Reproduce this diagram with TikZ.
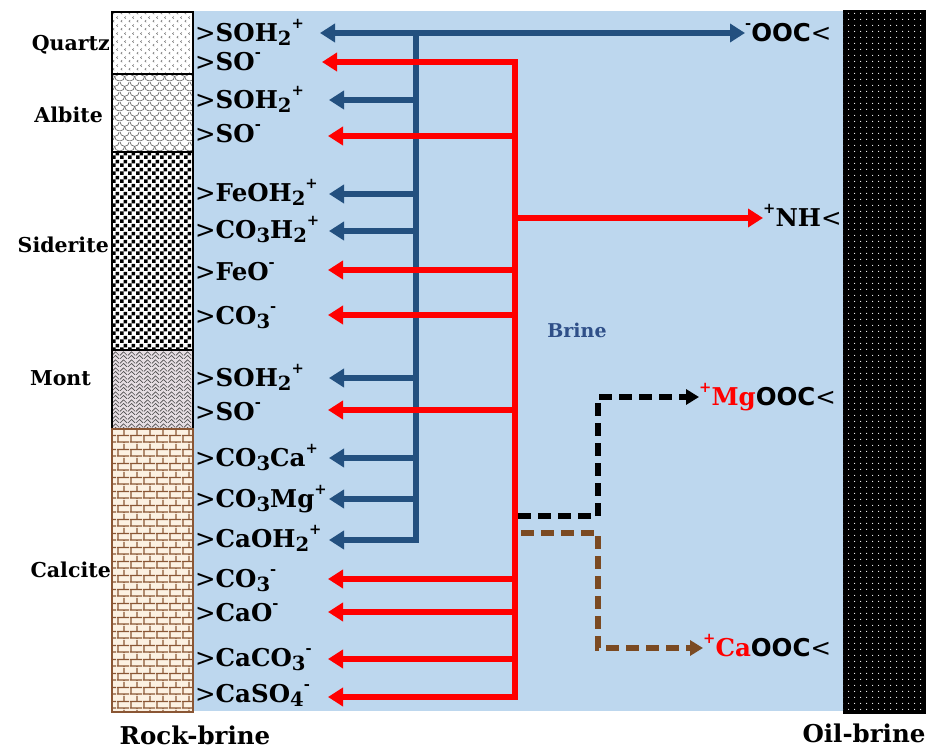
\documentclass[tikz,border=0pt]{standalone}
\usepackage{fontspec}
\usepackage{graphicx}
\setmainfont{DejaVu Serif}
\newfontfamily\sansfam{DejaVu Sans}
\usetikzlibrary{arrows.meta,patterns.meta}

\definecolor{bgblue}{HTML}{BDD7EE}
\definecolor{arrblue}{HTML}{23507F}
\definecolor{brinecol}{HTML}{2F4F88}
\definecolor{arrred}{HTML}{FF0000}
\definecolor{brownd}{HTML}{7B4A22}
\definecolor{calcbg}{HTML}{FCF1E2}
\definecolor{calcline}{HTML}{8A5634}
\definecolor{montbg}{HTML}{E6DEE3}

\newcommand\gtc{{\sansfam\mdseries >}}
\newcommand\sbs[1]{\raisebox{-0.15em}{\scalebox{0.8}{#1}}}
\newcommand\sps[1]{\raisebox{0.55em}{\scalebox{0.6}{#1}}}

\tikzdeclarepattern{name=qtzpat, type=uncolored,
  bounding box={(0pt,0pt) and (8pt,8pt)}, tile size={(8pt,8pt)},
  code={\draw[line width=0.6pt] (2.5pt,0.8pt) -- (1pt,2pt) -- (2.5pt,3.2pt);
        \draw[line width=0.6pt] (6.5pt,4.8pt) -- (5pt,6pt) -- (6.5pt,7.2pt);}}
\tikzdeclarepattern{name=albpat, type=uncolored,
  bounding box={(0pt,0pt) and (10pt,10pt)}, tile size={(10pt,10pt)},
  code={\draw[line width=0.7pt] (0pt,10pt) arc[start angle=180,end angle=360,radius=5pt];
        \draw[line width=0.7pt] (-5pt,5pt) arc[start angle=180,end angle=360,radius=5pt];
        \draw[line width=0.7pt] (5pt,5pt) arc[start angle=180,end angle=360,radius=5pt];}}
\tikzdeclarepattern{name=checkpat, type=uncolored,
  bounding box={(0pt,0pt) and (8pt,8pt)}, tile size={(8pt,8pt)},
  code={\fill (0pt,0pt) rectangle (4pt,4pt); \fill (4pt,4pt) rectangle (8pt,8pt);}}
\tikzdeclarepattern{name=montpat, type=uncolored,
  bounding box={(0pt,0pt) and (8pt,8pt)}, tile size={(8pt,8pt)},
  code={\draw[line width=0.7pt] (0pt,0pt) -- (4pt,4pt) -- (8pt,0pt);
        \draw[line width=0.7pt] (0pt,4pt) -- (4pt,8pt) -- (8pt,4pt);}}
\tikzdeclarepattern{name=brickpat, type=uncolored,
  bounding box={(0pt,0pt) and (13pt,14pt)}, tile size={(13pt,14pt)},
  code={\draw[line width=1.3pt] (0pt,1pt) -- (13pt,1pt);
        \draw[line width=1.3pt] (0pt,8pt) -- (13pt,8pt);
        \draw[line width=1.3pt] (1pt,1pt) -- (1pt,8pt);
        \draw[line width=1.3pt] (7.5pt,8pt) -- (7.5pt,14pt);
        \draw[line width=1.3pt] (7.5pt,0pt) -- (7.5pt,1pt);}}
\tikzdeclarepattern{name=oilpat, type=uncolored,
  bounding box={(0pt,0pt) and (5.6pt,5.6pt)}, tile size={(5.6pt,5.6pt)},
  code={\fill (2.8pt,2.8pt) circle (0.55pt);}}

\begin{document}
\begin{tikzpicture}[x=1pt,y=-1pt,
  spc/.style={anchor=west, inner sep=0pt, text height=17.5pt, text depth=0pt,
    font=\bfseries\fontsize{24.5}{24.5}\selectfont},
  rlab/.style={anchor=west, inner sep=0pt, text height=17.5pt, text depth=0pt,
    font=\bfseries\fontsize{24.5}{24.5}\selectfont},
  minlab/.style={anchor=east, inner sep=0pt, font=\bfseries\fontsize{20.5}{20.5}\selectfont},
  bottomlab/.style={inner sep=0pt, font=\bfseries\fontsize{24.5}{24.5}\selectfont},
  bline/.style={draw=arrblue, line width=5.5pt},
  rline/.style={draw=arrred, line width=5.5pt},
  kdash/.style={draw=black, line width=5.5pt, dash pattern=on 13pt off 7pt},
  ndash/.style={draw=brownd, line width=5.5pt, dash pattern=on 13pt off 7pt},
  blockedge/.style={draw=black, line width=1.5pt}
]
\useasboundingbox (0,0) rectangle (930,751);
\fill[white] (0,0) rectangle (930,751);

% brine and oil
\fill[bgblue] (193,11) rectangle (843,711);
\fill[black] (843,10) rectangle (926,714);
\fill[pattern=oilpat, pattern color=white] (843,10) rectangle (926,714);

% rock column
\fill[white] (112,12) rectangle (193,74);
\fill[pattern=qtzpat, pattern color=black!55] (112,12) rectangle (193,74);
\path[blockedge] (112,12) rectangle (193,74);
\fill[white] (112,74) rectangle (193,152);
\fill[pattern=albpat, pattern color=black!60] (112,74) rectangle (193,152);
\path[blockedge] (112,74) rectangle (193,152);
\fill[white] (112,152) rectangle (193,350);
\fill[pattern=checkpat, pattern color=black] (112,152) rectangle (193,350);
\path[blockedge] (112,152) rectangle (193,350);
\fill[montbg] (112,350) rectangle (193,429);
\fill[pattern=montpat, pattern color=black!70] (112,350) rectangle (193,429);
\path[blockedge] (112,350) rectangle (193,429);
\fill[calcbg] (112,429) rectangle (193,712);
\fill[pattern=brickpat, pattern color=calcline] (112,429) rectangle (193,712);
\draw[calcline, line width=2pt] (112,429) rectangle (193,712);

% mineral labels
\node[minlab] (quartz) at (110,45) {Quartz};
\node[minlab] (albite) at (103,115) {Albite};
\node[minlab] (siderite) at (109,245) {Siderite};
\node[minlab] (mont) at (91,378) {Mont};
\node[minlab] (calcite) at (111,570) {Calcite};
\node[bottomlab] (rock) at (195,735) {Rock-brine};
\node[bottomlab] (oil) at (864,733) {Oil-brine};
\node[inner sep=0pt, text=brinecol, font=\bfseries\fontsize{19}{19}\selectfont] (brine) at (577,330) {Brine};

% surface species
\node[spc] (s1) at (195,33) {\gtc SOH\sbs{2}\sps{+}};
\node[spc] (s2) at (195,62) {\gtc SO\sps{-}};
\node[spc] (s3) at (195,100) {\gtc SOH\sbs{2}\sps{+}};
\node[spc] (s4) at (195,134) {\gtc SO\sps{-}};
\node[spc] (s5) at (195,193) {\gtc FeOH\sbs{2}\sps{+}};
\node[spc] (s6) at (195,230) {\gtc CO\sbs{3}H\sbs{2}\sps{+}};
\node[spc] (s7) at (195,272) {\gtc FeO\sps{-}};
\node[spc] (s8) at (195,316) {\gtc CO\sbs{3}\sps{-}};
\node[spc] (s9) at (195,378) {\gtc SOH\sbs{2}\sps{+}};
\node[spc] (s10) at (195,412) {\gtc SO\sps{-}};
\node[spc] (s11) at (195,458) {\gtc CO\sbs{3}Ca\sps{+}};
\node[spc] (s12) at (195,499) {\gtc CO\sbs{3}Mg\sps{+}};
\node[spc] (s13) at (195,539) {\gtc CaOH\sbs{2}\sps{+}};
\node[spc] (s14) at (195,579) {\gtc CO\sbs{3}\sps{-}};
\node[spc] (s15) at (195,613) {\gtc CaO\sps{-}};
\node[spc] (s16) at (195,658) {\gtc CaCO\sbs{3}\sps{-}};
\node[spc] (s17) at (195,694) {\gtc CaSO\sbs{4}\sps{-}};

% oil-side species
\node[rlab] (o1) at (745,33) {\sps{-}{\sansfam OOC}{\sansfam\mdseries <}};
\node[rlab] (o2) at (763,218) {\sps{+}NH{\sansfam\mdseries <}};
\node[rlab] (o3) at (699,397) {\textcolor{arrred}{\sps{+}Mg}{\sansfam OOC}{\sansfam\mdseries <}};
\node[rlab] (o4) at (703,648) {\textcolor{arrred}{\sps{+}Ca}{\sansfam OOC}{\sansfam\mdseries <}};

% bus coordinates and arrow tips
\coordinate (bT) at (416,33);  \coordinate (bB) at (416,540);
\coordinate (rT) at (515,62);  \coordinate (rB) at (515,697);
\coordinate (t1) at (320,33);
\foreach \n/\y in {b3/100,b5/194,b6/231,b9/378,b11/458,b12/499,b13/540} {\coordinate (\n) at (329,\y);}
\foreach \n/\y in {r4/136,r7/270,r8/315,r10/410,r14/579,r15/612,r16/659,r17/697} {\coordinate (\n) at (328,\y);}
\coordinate (r2) at (322,62);

% blue connectors
\path[bline, {Triangle[length=15pt,width=18pt]}-{Triangle[length=15pt,width=18pt]}] (t1) -- (o1.west);
\path[bline, -{Triangle[length=15pt,width=18pt]}] (bT) -- (bB) -- (b13);
\foreach \n/\y in {b3/100,b5/194,b6/231,b9/378,b11/458,b12/499}
  \path[bline, -{Triangle[length=15pt,width=18pt]}] (416,\y) -- (\n);

% red connectors
\path[rline, {Triangle[length=15pt,width=18pt]}-{Triangle[length=15pt,width=18pt]}, line join=miter] (r2) -- (rT) -- (rB) -- (r17);
\foreach \n/\y in {r4/136,r7/270,r8/315,r10/410,r14/579,r15/612,r16/659}
  \path[rline, -{Triangle[length=15pt,width=18pt]}] (515,\y) -- (\n);
\path[rline, -{Triangle[length=15pt,width=18pt]}] (515,218) -- (o2.west);

% dashed connectors
\path[kdash, -{Triangle[length=13pt,width=15pt]}] (518,516) -- (598,516) -- (598,397) -- (o3.west);
\path[ndash, -{Triangle[length=13pt,width=15pt]}] (521,533) -- (598,533) -- (598,648) -- (o4.west);
\end{tikzpicture}
\end{document}
